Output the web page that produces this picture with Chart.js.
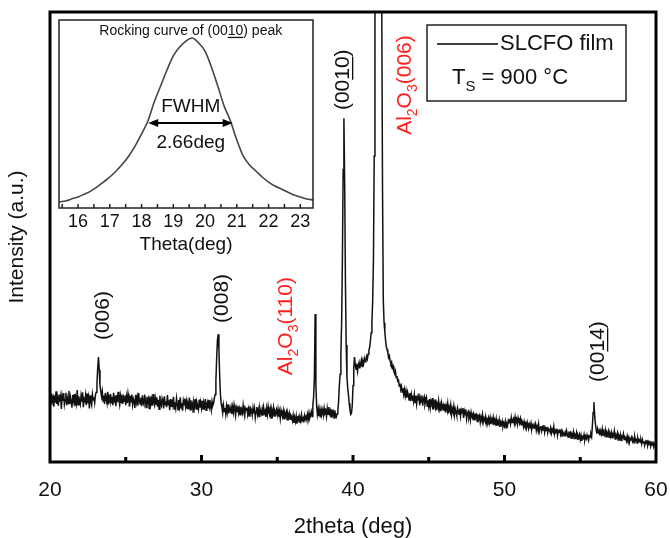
<!DOCTYPE html>
<html>
<head>
<meta charset="utf-8">
<script src="https://cdn.jsdelivr.net/npm/chart.js@4.4.1/dist/chart.umd.min.js"></script>
<style>
  body { margin: 0; background: #fff; }
  #wrap { position: relative; width: 670px; height: 538px; }
  #inset { position: absolute; left: 55px; top: 15px; }
</style>
</head>
<body>
<div id="wrap">
  <canvas id="xrd" width="670" height="538"></canvas>
  <canvas id="inset" width="262" height="245"></canvas>
</div>
<script>
// XRD scan, 2theta from 20 to 60 deg in 0.05 deg steps (one row = one degree)
const twoThetaStart = 20;
const twoThetaStep = 0.05;
const intensity = [
  14.6, 12.7, 15.2, 13.5, 14.3, 12.3, 14.8, 13.2, 15.7, 12.9, 14.0, 12.5, 15.0, 13.4, 14.5, 11.8, 14.7, 13.6, 15.3, 12.8,
  13.9, 15.4, 12.6, 14.1, 13.0, 15.8, 12.9, 14.4, 13.3, 12.1, 14.9, 13.7, 15.1, 12.4, 14.2, 13.1, 16.0, 12.7, 14.6, 13.5,
  12.8, 14.7, 13.4, 15.5, 12.2, 14.0, 13.6, 14.9, 12.6, 15.2, 13.1, 14.3, 11.9, 14.8, 13.5, 12.7, 15.0, 13.8, 14.4, 13.2,
  14.9, 15.5, 17.5, 21.0, 23.3, 20.5, 17.0, 15.8, 14.6, 15.7, 13.5, 14.8, 12.9, 15.3, 14.0, 13.2, 15.6, 12.8, 14.4, 13.6,
  15.1, 13.0, 14.5, 12.6, 15.4, 13.7, 14.2, 12.4, 14.9, 13.3, 15.6, 13.8, 12.7, 14.6, 13.2, 15.0, 12.9, 14.3, 13.5, 14.8,
  12.6, 14.5, 13.1, 15.2, 13.9, 12.3, 14.7, 13.4, 15.0, 12.8, 14.1, 13.6, 12.0, 14.9, 13.3, 14.4, 12.5, 15.3, 13.7, 12.9,
  14.3, 12.4, 14.8, 13.1, 12.7, 15.0, 13.6, 12.1, 14.5, 13.3, 14.0, 11.9, 14.6, 12.8, 13.9, 12.5, 15.1, 13.2, 12.6, 14.2,
  12.9, 14.4, 12.3, 13.8, 11.7, 14.7, 13.0, 12.5, 14.1, 13.4, 11.9, 14.6, 12.7, 13.5, 12.2, 14.9, 12.8, 13.7, 11.5, 14.0,
  12.4, 13.9, 12.8, 14.5, 11.8, 13.3, 12.1, 14.2, 12.9, 11.6, 13.8, 12.5, 14.4, 12.0, 13.1, 11.4, 13.6, 12.7, 14.1, 12.3,
  13.5, 11.9, 13.0, 12.4, 14.3, 11.6, 13.7, 12.2, 12.9, 11.1, 13.4, 12.6, 14.0, 11.8, 13.2, 12.5, 11.7, 13.9, 12.1, 13.3,
  12.0, 13.6, 11.8, 13.1, 12.4, 14.0, 11.5, 12.9, 13.4, 11.9, 13.8, 12.2, 12.8, 11.6, 13.5, 12.6, 13.1, 14.2, 15.0, 18.0,
  23.0, 27.0, 28.4, 25.0, 19.0, 15.0, 13.0, 12.1, 10.9, 12.6, 11.3, 12.0, 10.6, 12.4, 11.1, 12.8, 10.8, 11.9, 11.4, 12.3,
  10.7, 12.2, 11.0, 12.7, 11.6, 10.3, 12.0, 11.2, 12.5, 10.9, 11.8, 10.5, 12.3, 11.4, 10.8, 12.6, 11.1, 10.2, 11.9, 11.5,
  12.1, 10.6, 11.7, 10.2, 12.4, 11.0, 11.5, 10.4, 12.0, 10.8, 11.9, 9.9, 11.3, 12.2, 10.6, 11.6, 10.1, 12.0, 11.2, 10.7,
  11.8, 10.3, 12.1, 10.9, 11.4, 10.0, 11.9, 10.6, 12.3, 11.0, 10.4, 11.7, 9.8, 11.5, 10.7, 12.0, 10.2, 11.3, 10.8, 11.6,
  10.5, 11.7, 10.1, 11.2, 9.7, 11.5, 10.6, 10.0, 11.3, 9.6, 10.9, 10.3, 11.1, 9.4, 10.7, 9.9, 10.8, 9.5, 10.4, 10.1,
  9.2, 10.4, 8.7, 9.9, 9.0, 10.2, 8.5, 9.6, 10.0, 8.9, 9.8, 9.1, 10.5, 9.3, 9.7, 8.8, 10.3, 9.5, 10.1, 9.4,
  10.6, 9.6, 10.9, 9.8, 10.4, 11.2, 10.1, 12.5, 14.5, 18.5, 32.9, 17.0, 12.5, 10.6, 11.8, 10.2, 11.5, 9.9, 11.7, 10.8,
  11.6, 10.4, 12.0, 10.9, 11.3, 10.1, 11.9, 10.6, 12.2, 10.8, 11.4, 10.0, 11.7, 10.5, 11.1, 9.8, 11.5, 10.3, 10.0, 10.7,
  11.5, 13.5, 17.0, 19.5, 24.0, 31.0, 45.0, 65.0, 76.4, 62.0, 40.0, 26.0, 19.0, 16.5, 15.0, 13.0, 11.5, 10.6, 10.9, 12.5,
  17.0, 21.0, 23.3, 21.5, 20.6, 21.9, 20.2, 21.4, 22.1, 20.8, 21.7, 22.6, 21.2, 22.4, 21.9, 23.0, 22.3, 22.8, 23.5, 22.9,
  24.0, 24.8, 25.5, 27.0, 28.7, 31.0, 36.0, 45.0, 68.0, 100, 140, 170, 190, 200, 200, 190, 165, 130, 100, 60,
  36.0, 31.0, 29.0, 27.0, 25.6, 25.0, 24.3, 23.2, 23.6, 22.4, 21.8, 22.2, 20.9, 21.3, 20.1, 19.6, 20.2, 18.8, 19.1, 18.0,
  18.2, 16.9, 17.4, 16.1, 16.8, 15.5, 16.4, 15.0, 16.1, 14.7, 15.8, 14.3, 15.6, 14.9, 13.8, 15.3, 14.2, 15.1, 13.7, 14.8,
  13.5, 15.0, 13.2, 14.7, 12.9, 14.4, 13.8, 15.2, 12.6, 14.1, 13.3, 14.8, 12.5, 13.9, 14.5, 12.8, 13.6, 14.3, 12.4, 13.7,
  12.4, 14.0, 12.1, 13.5, 12.8, 14.2, 11.7, 13.3, 12.5, 13.9, 11.5, 12.9, 12.2, 13.6, 11.8, 12.7, 11.3, 13.1, 12.0, 12.6,
  11.4, 12.9, 11.0, 12.5, 11.7, 13.0, 10.8, 12.2, 11.5, 12.7, 10.6, 11.9, 11.2, 12.4, 10.5, 11.8, 11.1, 10.3, 12.0, 11.3,
  10.6, 11.9, 10.2, 11.5, 10.9, 12.0, 9.8, 11.3, 10.5, 11.7, 9.6, 10.8, 11.2, 9.9, 10.7, 9.4, 11.0, 10.1, 9.7, 10.6,
  9.4, 10.8, 9.9, 10.4, 9.0, 10.6, 9.6, 10.2, 8.8, 10.0, 9.3, 10.5, 8.9, 9.7, 9.2, 10.1, 8.6, 9.5, 9.0, 9.8,
  8.7, 9.8, 8.4, 9.5, 8.9, 9.9, 8.2, 9.3, 8.6, 9.6, 8.0, 9.0, 8.5, 9.4, 7.8, 8.8, 8.3, 9.1, 7.9, 8.6,
  8.0, 9.0, 7.6, 8.5, 8.1, 9.2, 8.7, 9.6, 8.5, 9.9, 8.8, 9.4, 9.7, 8.6, 10.0, 8.9, 9.5, 8.4, 9.8, 9.1,
  8.7, 9.6, 8.3, 9.2, 8.9, 7.9, 9.0, 8.2, 8.6, 7.6, 8.8, 8.0, 7.5, 8.4, 7.8, 8.6, 7.3, 8.1, 7.7, 8.3,
  7.4, 8.3, 7.0, 7.9, 7.2, 8.4, 6.8, 7.6, 8.0, 6.9, 7.7, 7.1, 8.2, 6.6, 7.5, 7.0, 7.8, 6.5, 7.4, 7.1,
  6.7, 7.6, 6.4, 7.2, 6.8, 7.9, 6.2, 7.0, 6.5, 7.4, 5.9, 6.9, 6.6, 7.3, 6.1, 6.8, 5.8, 6.7, 6.3, 6.0,
  6.6, 5.7, 6.9, 6.1, 5.5, 6.8, 5.9, 6.4, 5.3, 6.2, 5.8, 6.7, 5.2, 6.0, 5.6, 6.5, 5.1, 5.9, 5.4, 6.1,
  5.0, 5.9, 4.7, 5.6, 5.3, 6.1, 4.9, 5.7, 5.2, 6.0, 5.4, 4.8, 5.8, 5.5, 6.2, 5.6, 8.0, 11.0, 13.3, 10.5,
  8.5, 7.2, 6.3, 7.4, 6.6, 7.0, 5.9, 6.9, 6.2, 7.3, 5.8, 6.7, 6.1, 7.1, 5.6, 6.5, 6.0, 6.8, 5.5, 6.3,
  5.7, 6.6, 5.4, 6.2, 5.9, 6.9, 5.1, 6.0, 5.6, 6.4, 4.9, 5.8, 5.3, 6.1, 4.8, 5.7, 5.5, 6.3, 5.0, 5.6,
  5.4, 4.7, 5.8, 5.0, 5.5, 4.4, 5.2, 4.9, 5.9, 4.6, 5.1, 4.3, 5.6, 4.8, 5.0, 4.2, 5.3, 4.6, 4.9, 4.4,
  4.8, 4.0, 5.0, 4.3, 4.6, 3.7, 4.5, 4.1, 4.9, 3.6, 4.4, 3.9, 4.7, 3.5, 4.2, 3.8, 4.6, 3.4, 4.0, 3.7,
  3.9
];

// rocking curve of the (0010) peak (inset), intensity normalised
const rockTheta = [
  15.4, 15.6, 15.8, 16.0, 16.2, 16.4, 16.6, 16.8, 17.0, 17.2,
  17.4, 17.6, 17.8, 18.0, 18.2, 18.4, 18.6, 18.8, 19.0, 19.2,
  19.4, 19.6, 19.8, 20.0, 20.2, 20.4, 20.6, 20.8, 21.0, 21.2,
  21.4, 21.6, 21.8, 22.0, 22.2, 22.4, 22.6, 22.8, 23.0, 23.2, 23.4
];
const rockIntensity = [
  0.032, 0.037, 0.048, 0.059, 0.074, 0.090, 0.112, 0.138, 0.165, 0.197,
  0.234, 0.277, 0.330, 0.394, 0.463, 0.564, 0.649, 0.734, 0.809, 0.856,
  0.888, 0.904, 0.878, 0.835, 0.750, 0.649, 0.543, 0.463, 0.362, 0.277,
  0.229, 0.197, 0.165, 0.138, 0.117, 0.101, 0.085, 0.069, 0.059, 0.048, 0.043
];
const rockTicks = [16, 17, 18, 19, 20, 21, 22, 23];
const fwhmEdges = [18.21, 20.87];
const halfMax = 0.452;

const BLACK = '#111';
const RED = '#ff1f1f';
const FONT = '"Liberation Sans", Arial, Helvetica, sans-serif';

// rotated peak labels: x = 2theta, y = intensity where the text starts
const peakLabels = [
  { x: 23.5, y: 27.1, color: BLACK, parts: [['(006)']] },
  { x: 31.35, y: 30.9, color: BLACK, parts: [['(008)']] },
  { x: 35.6, y: 19.3, color: RED, parts: [['Al'], ['2', 'sub'], ['O'], ['3', 'sub'], ['(110)']] },
  { x: 39.34, y: 78.2, color: BLACK, parts: [['(00'], ['10', 'ul'], [')']] },
  { x: 43.43, y: 72.7, color: RED, parts: [['Al'], ['2', 'sub'], ['O'], ['3', 'sub'], ['(006)']] },
  { x: 56.17, y: 17.8, color: BLACK, parts: [['(00'], ['14', 'ul'], [')']] }
];

Chart.defaults.font.family = FONT;
Chart.defaults.color = BLACK;

const richWidth = (ctx, parts, size) => {
  let w = 0;
  for (const [t, kind] of parts) {
    ctx.font = `${kind === 'sub' ? Math.round(size * 0.68) : size}px ${FONT}`;
    w += ctx.measureText(t).width;
  }
  return w;
};

// text with subscripts / underlines, start point at (x, y), optional rotation
const drawRich = (ctx, parts, x, y, size, color, angle = 0, center = false) => {
  ctx.save();
  ctx.translate(x, y);
  ctx.rotate(angle);
  ctx.fillStyle = color;
  ctx.strokeStyle = color;
  ctx.textBaseline = 'middle';
  ctx.textAlign = 'left';
  let cx = center ? -richWidth(ctx, parts, size) / 2 : 0;
  for (const [t, kind] of parts) {
    const s = kind === 'sub' ? Math.round(size * 0.68) : size;
    ctx.font = `${s}px ${FONT}`;
    ctx.fillText(t, cx, kind === 'sub' ? size * 0.38 : 0);
    const w = ctx.measureText(t).width;
    if (kind === 'ul') {
      ctx.lineWidth = 1.3;
      ctx.beginPath();
      ctx.moveTo(cx, size * 0.46);
      ctx.lineTo(cx + w, size * 0.46);
      ctx.stroke();
    }
    cx += w;
  }
  ctx.restore();
};

const xrdDecor = {
  id: 'xrdDecor',
  afterDatasetsDraw(chart) {
    const { ctx, chartArea: a, scales: { x, y } } = chart;
    peakLabels.forEach((l) => {
      drawRich(ctx, l.parts, x.getPixelForValue(l.x), y.getPixelForValue(l.y), 21, l.color, -Math.PI / 2);
    });

    ctx.save();
    ctx.strokeStyle = '#000';
    ctx.lineWidth = 3;
    ctx.strokeRect(a.left, a.top, a.right - a.left, a.bottom - a.top);
    // inward ticks on the bottom axis
    for (let v = 25; v < 60; v += 5) {
      const px = x.getPixelForValue(v);
      const len = v % 10 === 0 ? 7 : 5;
      ctx.beginPath();
      ctx.moveTo(px, a.bottom);
      ctx.lineTo(px, a.bottom - len);
      ctx.stroke();
    }

    // legend box
    ctx.lineWidth = 1.3;
    ctx.strokeRect(a.right - 229, a.top + 13, 199, 76);
    ctx.lineWidth = 1.6;
    ctx.beginPath();
    ctx.moveTo(a.right - 219, a.top + 32);
    ctx.lineTo(a.right - 158, a.top + 32);
    ctx.stroke();
    ctx.restore();
    drawRich(ctx, [['SLCFO film']], a.right - 156, a.top + 32, 22, BLACK);
    drawRich(ctx, [['T'], ['S', 'sub'], [' = 900 °C']], a.right - 204, a.top + 66, 22, BLACK);
  }
};

const insetDecor = {
  id: 'insetDecor',
  afterDatasetsDraw(chart) {
    const { ctx, chartArea: a, scales: { x, y } } = chart;
    ctx.save();
    ctx.strokeStyle = '#222';
    ctx.lineWidth = 1.5;
    ctx.strokeRect(a.left, a.top, a.right - a.left, a.bottom - a.top);
    for (let v = 15.5; v <= 23.01; v += 0.5) {
      const px = x.getPixelForValue(v);
      ctx.beginPath();
      ctx.moveTo(px, a.bottom);
      ctx.lineTo(px, a.bottom - 4);
      ctx.stroke();
    }

    // FWHM double arrow
    const yh = y.getPixelForValue(halfMax);
    const x1 = x.getPixelForValue(fwhmEdges[0]);
    const x2 = x.getPixelForValue(fwhmEdges[1]);
    ctx.strokeStyle = '#000';
    ctx.fillStyle = '#000';
    ctx.lineWidth = 2;
    ctx.beginPath();
    ctx.moveTo(x1 + 6, yh);
    ctx.lineTo(x2 - 6, yh);
    ctx.stroke();
    [[x1, 1], [x2, -1]].forEach(([px, dir]) => {
      ctx.beginPath();
      ctx.moveTo(px, yh);
      ctx.lineTo(px + dir * 10, yh - 4);
      ctx.lineTo(px + dir * 10, yh + 4);
      ctx.closePath();
      ctx.fill();
    });
    ctx.restore();

    const cx = x.getPixelForValue(19.55);
    drawRich(ctx, [['Rocking curve of (00'], ['10', 'ul'], [') peak']], cx, a.top + 11, 14, BLACK, 0, true);
    drawRich(ctx, [['FWHM']], cx, y.getPixelForValue(0.537), 19, BLACK, 0, true);
    drawRich(ctx, [['2.66deg']], cx, y.getPixelForValue(0.346), 19, BLACK, 0, true);
  }
};

const xrdPoints = intensity.map((v, i) => ({ x: +(twoThetaStart + i * twoThetaStep).toFixed(2), y: v }));

new Chart(document.getElementById('xrd'), {
  type: 'line',
  data: {
    datasets: [{
      label: 'SLCFO film',
      data: xrdPoints,
      borderColor: BLACK,
      borderWidth: 1.5,
      pointRadius: 0,
      tension: 0,
    }],
  },
  options: {
    responsive: false,
    animation: false,
    devicePixelRatio: 1,
    layout: { padding: { left: 0, top: 12, right: 14, bottom: 0 } },
    plugins: { legend: { display: false }, tooltip: { enabled: false } },
    scales: {
      x: {
        type: 'linear',
        min: 20,
        max: 60,
        grid: { display: false, drawTicks: true, tickLength: 16 },
        border: { display: false },
        ticks: { stepSize: 10, font: { size: 21 }, padding: 0, maxRotation: 0 },
        title: { display: true, text: '2theta (deg)', font: { size: 22, lineHeight: 1 }, padding: { top: 0, bottom: 0 } },
        afterFit: (s) => { s.height = 76; },
      },
      y: {
        min: 0,
        max: 100,
        grid: { display: false, drawTicks: false },
        border: { display: false },
        ticks: { display: false },
        title: { display: true, text: 'Intensity (a.u.)', font: { size: 21 }, padding: { top: 5, bottom: 0 } },
        afterFit: (s) => { s.width = 50; },
      },
    },
  },
  plugins: [xrdDecor],
});

new Chart(document.getElementById('inset'), {
  type: 'line',
  data: {
    datasets: [{
      data: rockTheta.map((t, i) => ({ x: t, y: rockIntensity[i] })),
      borderColor: '#444',
      borderWidth: 1.6,
      pointRadius: 0,
      tension: 0.3,
    }],
  },
  options: {
    responsive: false,
    animation: false,
    devicePixelRatio: 1,
    layout: { padding: { left: 4, top: 5, right: 4, bottom: 0 } },
    plugins: { legend: { display: false }, tooltip: { enabled: false } },
    scales: {
      x: {
        type: 'linear',
        min: 15.4,
        max: 23.4,
        grid: { display: false, drawTicks: true, tickLength: 3 },
        border: { display: false },
        ticks: { font: { size: 18 }, padding: 0, maxRotation: 0, autoSkip: false },
        afterBuildTicks: (s) => { s.ticks = rockTicks.map((v) => ({ value: v })); },
        title: { display: true, text: 'Theta(deg)', font: { size: 19 }, padding: { top: 0, bottom: 4 } },
        afterFit: (s) => { s.height = 52; },
      },
      y: { display: false, min: 0, max: 1 },
    },
  },
  plugins: [insetDecor],
});
</script>
</body>
</html>
